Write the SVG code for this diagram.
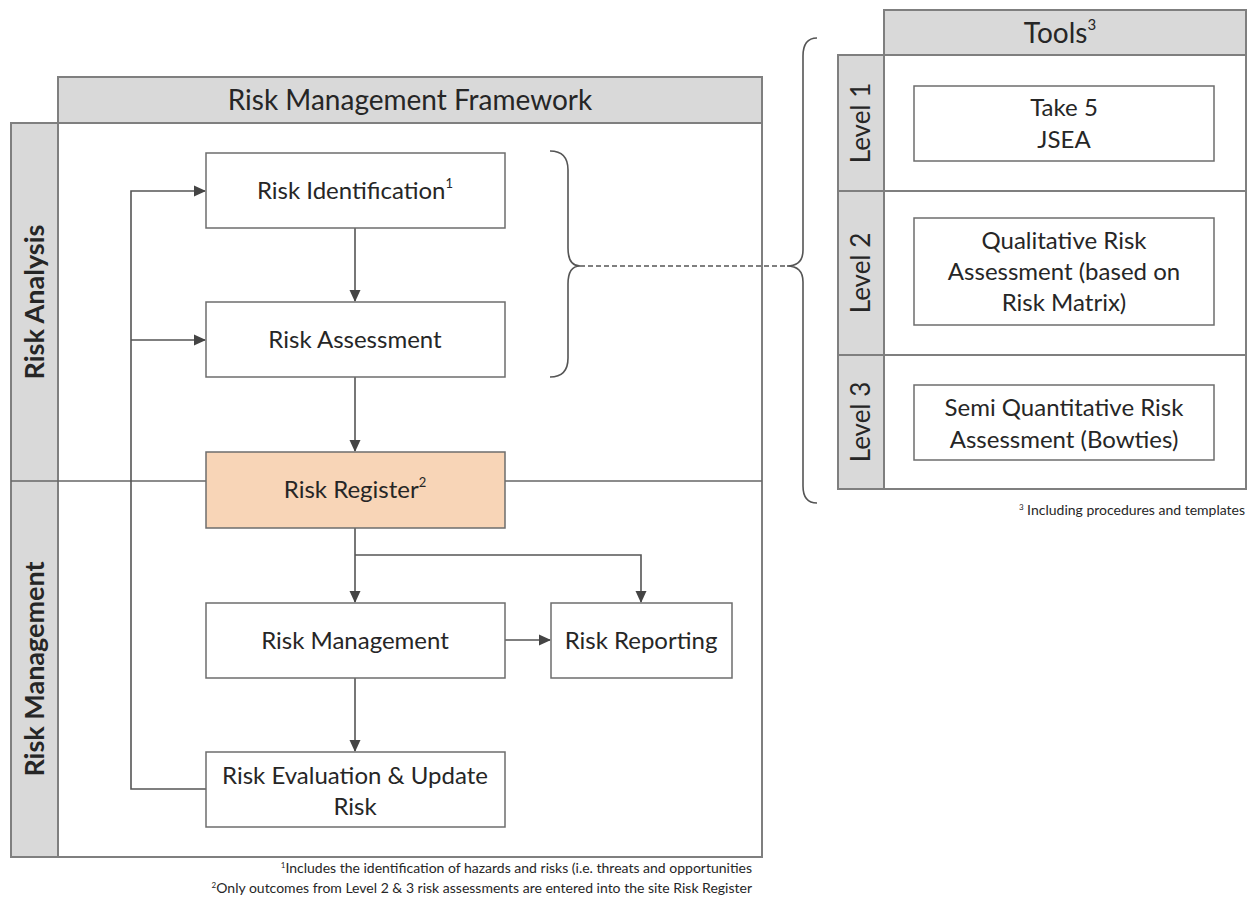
<svg xmlns="http://www.w3.org/2000/svg" width="1251" height="907" viewBox="0 0 1251 907">
<style>
.bar{fill:#d9d9d9;stroke:#7f7f7f;stroke-width:2}
.frame{fill:#fff;stroke:#7f7f7f;stroke-width:2}
.box{fill:#fff;stroke:#6d6d6d;stroke-width:1.5}
.reg{fill:#f8d5b7;stroke:#6d6d6d;stroke-width:1.5}
.ln{fill:none;stroke:#555;stroke-width:1.6}
.t{font-family:Lato,"Open Sans","Liberation Sans",sans-serif;fill:#262626;text-anchor:middle}
.n{font-size:24px}
.h{font-size:28px}
.side{font-size:27px;font-weight:bold}
.lvl{font-size:26px}
.fn{font-family:Lato,"Liberation Sans",sans-serif;font-size:14px;fill:#262626;text-anchor:end}
</style>
<defs>
<marker id="ah" markerWidth="12" markerHeight="12" refX="11" refY="6" orient="auto" markerUnits="userSpaceOnUse">
<path d="M0,0.5 L12,6 L0,11.5 Z" fill="#444"/>
</marker>
</defs>
<rect width="1251" height="907" fill="#fff"/>

<g id="framework">
<rect class="frame" x="58" y="123" width="704" height="734"/>
<rect class="bar" x="58" y="77" width="704" height="46"/>
<text class="t h" x="410" y="110">Risk Management Framework</text>
<rect class="bar" x="11" y="123" width="47" height="734"/>
<line x1="11" y1="481" x2="762" y2="481" stroke="#666" stroke-width="1.6"/>
<text class="t side" transform="translate(44,302) rotate(-90)">Risk Analysis</text>
<text class="t side" transform="translate(44,669) rotate(-90)">Risk Management</text>
</g>

<g id="connectors">
<line class="ln" x1="355" y1="228" x2="355" y2="301" marker-end="url(#ah)"/>
<line class="ln" x1="355" y1="377" x2="355" y2="451" marker-end="url(#ah)"/>
<line class="ln" x1="355" y1="528" x2="355" y2="602" marker-end="url(#ah)"/>
<polyline class="ln" points="355,555 641,555 641,602" marker-end="url(#ah)"/>
<line class="ln" x1="505" y1="640" x2="550" y2="640" marker-end="url(#ah)"/>
<line class="ln" x1="355" y1="678" x2="355" y2="751" marker-end="url(#ah)"/>
<polyline class="ln" points="206,789 131,789 131,191 205,191" marker-end="url(#ah)"/>
<line class="ln" x1="131" y1="340" x2="205" y2="340" marker-end="url(#ah)"/>
<path class="ln" d="M550,151 Q568,151 568,170 L568,248 Q568,266 580,266 Q568,266 568,284 L568,358 Q568,377 550,377"/>
<path class="ln" d="M817,38 Q803,38 803,56 L803,250 Q803,266 787,266 Q803,266 803,282 L803,486 Q803,503 817,503"/>
<line class="ln" x1="580" y1="266" x2="787" y2="266" stroke-dasharray="5,3"/>
</g>

<g id="risk-identification">
<rect class="box" x="206" y="153" width="299" height="75"/>
<text class="t n" x="355" y="199">Risk Identification<tspan font-size="13" dy="-11">1</tspan></text>
</g>
<g id="risk-assessment">
<rect class="box" x="206" y="302" width="299" height="75"/>
<text class="t n" x="355" y="348">Risk Assessment</text>
</g>
<g id="risk-register">
<rect class="reg" x="206" y="452" width="299" height="76"/>
<text class="t n" x="355" y="498">Risk Register<tspan font-size="13" dy="-11">2</tspan></text>
</g>
<g id="risk-management">
<rect class="box" x="206" y="603" width="299" height="75"/>
<text class="t n" x="355" y="649">Risk Management</text>
</g>
<g id="risk-reporting">
<rect class="box" x="551" y="603" width="181" height="75"/>
<text class="t n" x="641" y="649">Risk Reporting</text>
</g>
<g id="risk-evaluation">
<rect class="box" x="206" y="752" width="299" height="75"/>
<text class="t n" x="355" y="784">Risk Evaluation &amp; Update</text>
<text class="t n" x="355" y="815">Risk</text>
</g>

<g id="tools">
<rect class="frame" x="884" y="55" width="362" height="434"/>
<rect class="bar" x="884" y="10" width="362" height="45"/>
<text class="t h" x="1060" y="43">Tools<tspan font-size="15" dy="-13">3</tspan></text>
<rect class="bar" x="838" y="55" width="46" height="434"/>
<line x1="838" y1="191" x2="1246" y2="191" stroke="#7f7f7f" stroke-width="2"/>
<line x1="838" y1="355" x2="1246" y2="355" stroke="#7f7f7f" stroke-width="2"/>
<text class="t lvl" transform="translate(870,123) rotate(-90)">Level 1</text>
<text class="t lvl" transform="translate(870,273) rotate(-90)">Level 2</text>
<text class="t lvl" transform="translate(870,422) rotate(-90)">Level 3</text>
</g>
<g id="level1-tool">
<rect class="box" x="914" y="86" width="300" height="75"/>
<text class="t n" x="1064" y="116">Take 5</text>
<text class="t n" x="1064" y="148">JSEA</text>
</g>
<g id="level2-tool">
<rect class="box" x="914" y="218" width="300" height="107"/>
<text class="t n" x="1064" y="249">Qualitative Risk</text>
<text class="t n" x="1064" y="280">Assessment (based on</text>
<text class="t n" x="1064" y="311">Risk Matrix)</text>
</g>
<g id="level3-tool">
<rect class="box" x="914" y="385" width="300" height="75"/>
<text class="t n" x="1064" y="416">Semi Quantitative Risk</text>
<text class="t n" x="1064" y="448">Assessment (Bowties)</text>
</g>

<g id="footnotes">
<text class="fn" x="1245" y="515"><tspan font-size="8" dy="-5">3</tspan><tspan dy="5"> Including procedures and templates</tspan></text>
<text class="fn" x="752" y="873"><tspan font-size="8" dy="-5">1</tspan><tspan dy="5">Includes the identification of hazards and risks (i.e. threats and opportunities</tspan></text>
<text class="fn" x="752" y="893"><tspan font-size="8" dy="-5">2</tspan><tspan dy="5">Only outcomes from Level 2 &amp; 3 risk assessments are entered into the site Risk Register</tspan></text>
</g>
</svg>
